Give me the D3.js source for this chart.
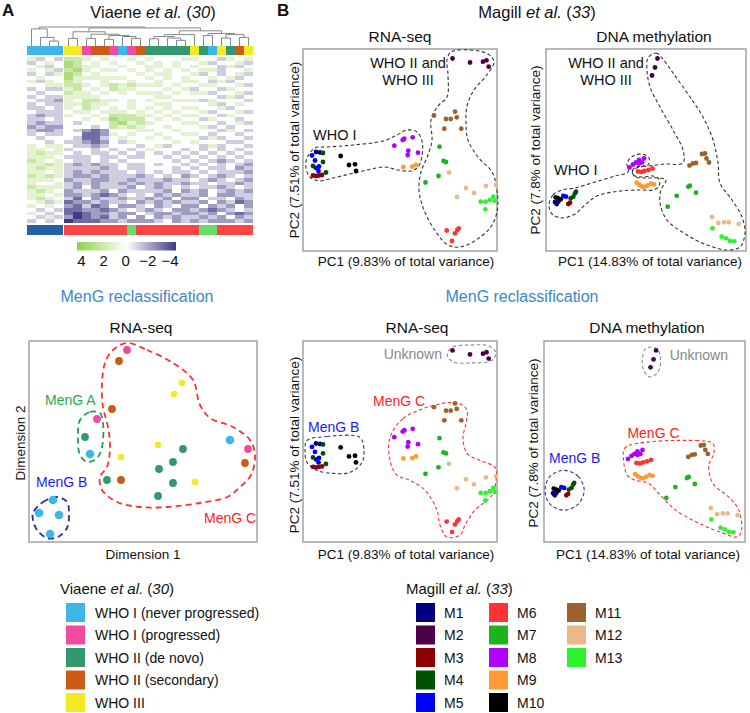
<!DOCTYPE html>
<html><head><meta charset="utf-8">
<script src="https://cdn.jsdelivr.net/npm/d3@7"></script>
<style>
body{margin:0;background:#fff;}
svg{font-family:"Liberation Sans",Arial,Helvetica,sans-serif;}
</style></head><body>
<svg id="c" width="750" height="713"></svg>
<script>
// ---------------- DATA ----------------
const viaeneGroups = ["WHO I (never progressed)","WHO I (progressed)","WHO II (de novo)","WHO II (secondary)","WHO III"];
const viaeneColors = ["#3fb6e8","#f24aa0","#33986f","#cc5b16","#f4ea22"];
const mengColors = ["#66dd66","#2462a6","#ff4444"]; // A, B, C
// heatmap column annotations (sample order after clustering)
const sampleGroup = [0,0,0,0, 4,4,1,3,3,1,0,1,3, 2,2,2,2,2, 4,2,0,4,2,3,4];
const sampleMenG  = [1,1,1,1, 2,2,2,2,2,2,2,0,2,2,2,2,2,2,2,0,0,2,2,2,2];
// heatmap values, one string per gene band; digit d -> value 4-d (0=+4 green, 8=-4 purple)
const heatRows = [
"3545"+"22"+"343"+"4434"+"34443"+"3445343",
"5434"+"12"+"434"+"3443"+"43434"+"4354435",
"4354"+"12"+"334"+"4344"+"33434"+"3445354",
"3435"+"21"+"343"+"3434"+"34343"+"4335443",
"5453"+"12"+"434"+"4443"+"43344"+"3545435",
"4344"+"13"+"333"+"3344"+"34343"+"4434354",
"3534"+"23"+"443"+"4434"+"43443"+"3453544",
"4433"+"22"+"343"+"2323"+"33434"+"4334435",
"5455"+"32"+"434"+"2334"+"44343"+"5445344",
"4544"+"23"+"343"+"4343"+"33434"+"3354435",
"5455"+"33"+"334"+"4444"+"43344"+"4445354",
"4556"+"34"+"223"+"3434"+"34433"+"3534445",
"5455"+"33"+"233"+"4434"+"43344"+"4435434",
"5545"+"34"+"234"+"3434"+"34343"+"3443544",
"4555"+"43"+"343"+"3343"+"43434"+"4354435",
"5655"+"34"+"434"+"2223"+"34343"+"3445344",
"5545"+"44"+"343"+"1222"+"43434"+"4534454",
"5655"+"45"+"444"+"2132"+"34443"+"3445435",
"6566"+"44"+"454"+"2323"+"44344"+"4354544",
"5665"+"45"+"676"+"4443"+"34434"+"4445345",
"5455"+"44"+"776"+"3434"+"43443"+"3454454",
"4544"+"45"+"775"+"4344"+"34344"+"4535445",
"4454"+"55"+"676"+"4534"+"44434"+"3444554",
"3433"+"45"+"565"+"4445"+"43544"+"4535445",
"3343"+"54"+"454"+"5454"+"34445"+"4545454",
"3233"+"45"+"455"+"4545"+"45454"+"5454545",
"3334"+"55"+"545"+"5455"+"44545"+"4545454",
"2343"+"45"+"545"+"4544"+"44454"+"5456545",
"3323"+"56"+"565"+"5455"+"45445"+"4545456",
"3233"+"55"+"556"+"5455"+"44454"+"5455465",
"3343"+"56"+"565"+"5545"+"45455"+"4545556",
"2323"+"56"+"656"+"5556"+"54546"+"5456545",
"3334"+"65"+"566"+"5565"+"55655"+"4565456",
"3443"+"56"+"565"+"5656"+"56556"+"5545565",
"2333"+"56"+"465"+"5564"+"56545"+"4556545",
"3234"+"65"+"556"+"4655"+"55646"+"5645656",
"3343"+"66"+"567"+"6545"+"46565"+"5646655",
"3234"+"57"+"465"+"5655"+"65646"+"6455465",
"4353"+"76"+"656"+"5546"+"56565"+"5646576",
"3434"+"67"+"576"+"4665"+"46546"+"6465646",
"4545"+"77"+"667"+"6545"+"65466"+"5676545",
"3454"+"78"+"766"+"5664"+"56656"+"6564676",
"4535"+"68"+"767"+"5646"+"46565"+"5656465",
"5454"+"87"+"776"+"6566"+"65465"+"6566656"
];
// dendrogram: [height, left, right] or leaf index
const dendro = [1.0,
  [0.9, 0, [0.45, 1, [0.26, 2, 3]]],
  [0.95,
    [0.75, [0.4, 4, 5], [0.62, [0.4, 6, 7], [0.55, [0.35, 8, 9], [0.5, 10, [0.4, 11, 12]]]]],
    [0.8, [0.6, [0.5, [0.38, 13, 14], [0.42, 15, [0.3, 16, 17]]], 18],
          [0.66, [0.55, 19, 20], [0.6, [0.42, 21, 22], [0.45, 23, 24]]]]]];
const heatTicks = [4, 2, 0, -2, -4];

// Viaene MDS: [group, dim1, dim2]
const mdsPoints = [
[1,98,192],[3,90,181],[4,153,159],[4,145,148],[3,83,133],[1,68,123],[2,56,105],[0,61,88],
[4,129,97],[2,154,93],[0,201,102],[4,92,85],[2,144,80],[2,130,73],[2,78,62],[3,92,62],
[2,144,59],[4,166,60],[2,129,46],[0,24,42],[0,10,29],[0,30,27],[0,21,8],[1,219,93],[3,216,79]
];
const mdsHullA = [[51,122],[61,130],[71,129],[74,119],[73,95],[68,84],[58,80],[51,87],[49,105]];
const mdsHullB = [[4,29],[14,40],[28,45],[38,40],[40,29],[38,14],[29,5],[18,4],[8,12],[4,22]];
const mdsHullC = [[98,199],[118,192],[144,179],[164,162],[171,137],[181,124],[204,115],[221,102],[226,87],[222,67],[211,55],[198,45],[171,39],[138,35],[111,35],[88,40],[73,52],[71,65],[78,75],[81,95],[79,115],[74,135],[73,159],[76,179],[84,192]];

// Magill
const magillLabels = ["M1","M2","M3","M4","M5","M6","M7","M8","M9","M10","M11","M12","M13"];
const magillColors = ["#000080","#4b0048","#8b0000","#005200","#0000ff","#ff3333","#1db31d","#b000ff","#ff9933","#000000","#9b6230","#e9b98a","#2ef22e"];
// RNA-seq PCA: [cluster, PC1, PC2]
const rnaPoints = [
[1,13,99],[1,17,98.5],
[5,9,95.5],[5,12,90.5],[5,13,83],[5,16,84.5],[5,15.5,80],
[4,20,98],[4,20,89],[4,10,85],[4,23,78.5],
[3,10,75.5],[3,13,75],[3,16,75.5],[3,19,76],
[10,37.7,95],[10,46,86],[10,52,86.7],[10,53,80],
[8,91.3,105.3],[8,99.7,111],[8,101.3,112.3],[8,109.7,113.7],[8,105.3,100.3],[8,104.7,96],[8,115,98.3],
[9,100.3,84],[9,109.3,84.3],[9,113,86],
[2,149.5,192.5],[2,167,188.5],[2,180,189.3],[2,183.5,190.7],[2,185.7,184.3],
[11,131,135.5],[11,143,132],[11,147.7,132],[11,152,139.3],[11,153.7,133.7],[11,141.3,122.3],[11,158.3,122.3],
[7,136.5,104.3],[7,140.5,90],[7,143,89],[7,135.5,75],[7,122.5,68.5],
[12,146,78.5],[12,163,63],[12,154,54],[12,171,58],[12,183,65],[12,193,66],
[13,177.7,49.3],[13,182.7,49.3],[13,187,51],[13,190.3,54.3],[13,182.3,41.7],[13,191.7,50.3],
[6,143.7,20.5],[6,152,17.7],[6,154.3,21],[6,155.7,22.7],[6,149,10]
];
// DNA methylation PCA: [cluster, PC1, PC2]
const dnaPoints = [
[2,111.5,192.5],[2,109,183.5],[2,106,175.5],
[11,143.5,85.5],[11,147,87.5],[11,150,88],[11,156,97],[11,159,97.5],[11,160.5,92.5],[11,163,88.5],
[8,83.5,83.5],[8,87,86.5],[8,90,88.5],[8,93,87.5],[8,96,88.5],[8,98,92.5],[8,93,91],
[6,92,79.5],[6,95.5,79],[6,98.5,80],[6,102.5,81],[6,106.5,82.5],
[9,90.7,68.3],[9,93.5,66],[9,96,64.5],[9,98.5,64],[9,101.5,65.5],[9,105,67.5],[9,108,66.5],
[1,9,49],[1,10.7,47],[1,12.3,49.3],
[10,12.3,52.7],[10,14.7,51.7],[10,9.7,53.7],
[5,17.3,55],[5,20,54.3],
[3,22.3,47],[3,24,48.3],
[4,24.7,52.7],[4,27.3,54.3],[4,29,57.7],[4,30,59.3],
[7,142.3,64.3],[7,144,65.3],[7,150,58.3],[7,130.7,55.2],[7,121.7,44.3],
[12,166,34],[12,172.3,28],[12,178,28.7],[12,182.7,28.7],[12,192.7,27],
[13,166.5,22.7],[13,175.7,14.3],[13,180,12.7],[13,184,10],[13,188.3,9.7]
];
// WHO-grade hulls (top row)
const rnaHullWho1 = [[4,93],[12,103],[24,104],[50,106],[80,110],[94,116],[104,121],[114,119],[119,110],[119,95],[115,84],[108,80],[95,81],[82,84],[64,81],[47,77],[30,73],[16,70],[7,74],[3,83]];
const rnaHullWho23 = [[148,199],[167,201],[185,197],[191,189],[183,175],[171,161],[164,145],[163,127],[165,111],[175,94],[189,79],[194,61],[194,39],[187,23],[173,11],[157,4],[145,6],[133,19],[121,41],[116,61],[118,79],[125,96],[129,111],[128,131],[135,145],[144,154],[145,176],[144,191]];
const dnaHullWho1 = [[3,46],[7,56],[16,61],[29,63],[49,69],[69,75],[82,79],[81,88],[87,95],[96,97],[103,93],[102,86],[94,84],[87,81],[87,76],[96,74],[107,75],[113,72],[113,65],[107,61],[94,61],[74,60],[51,55],[39,46],[29,37],[16,33],[6,37]];
const dnaHullWho23 = [[102,193],[110,198],[116,193],[127,178],[144,154],[157,134],[167,111],[172,88],[174,68],[186,51],[196,34],[199,18],[194,4],[181,1],[161,6],[141,16],[121,31],[114,48],[115,61],[120,71],[114,73],[102,73],[90,74],[86,79],[90,84],[102,85],[119,87],[137,88],[137,101],[127,121],[114,144],[104,164],[101,181]];
// MenG hulls (bottom row)
const rnaHullUnknown = [[144,189],[150,196],[168,198],[186,197],[193,190],[188,182],[168,180],[150,181]];
const rnaHullB = [[4,102],[24,106],[57,105],[61,92],[59,80],[47,70],[30,69],[14,72],[4,80],[2,92]];
const rnaHullC = [[87,105],[100,124],[120,134],[130,137],[144,140],[157,139],[164,132],[163,119],[160,105],[164,89],[177,82],[192,75],[193,62],[189,47],[172,32],[162,17],[157,7],[144,5],[137,17],[134,32],[122,52],[107,62],[94,67],[87,82]];
const dnaHullUnknown = [[107,196],[114,192],[116,181],[113,170],[105,166],[99,173],[98,185],[101,194]];
const dnaHullB = [[20,72],[34,66],[40,52],[34,38],[20,32],[6,38],[1,52],[6,66]];
const dnaHullC = [[81,95],[151,102],[168,99],[169,89],[164,77],[168,59],[184,45],[194,32],[196,9],[191,5],[178,9],[158,17],[131,32],[114,49],[104,59],[91,62],[83,67],[79,85]];

// ---------------- DRAW ----------------
const svg = d3.select("#c");

function txt(x, y, s, size, opts = {}) {
  const t = svg.append("text").attr("x", x).attr("y", y).attr("font-size", size)
    .attr("fill", opts.fill || "#111").attr("text-anchor", opts.anchor || "start");
  if (opts.weight) t.attr("font-weight", opts.weight);
  t.text(s);
  return t;
}
function vtxt(x, y, s, size) {
  svg.append("text").attr("transform", `translate(${x},${y}) rotate(-90)`)
    .attr("text-anchor", "middle").attr("font-size", size).attr("fill", "#111").text(s);
}
function cite(x, y, name, num, size, anchor) {
  const t = svg.append("text").attr("x", x).attr("y", y).attr("font-size", size)
    .attr("text-anchor", anchor).attr("fill", "#111");
  t.append("tspan").text(name + " ");
  t.append("tspan").attr("font-style", "italic").text("et al.");
  t.append("tspan").text(" (");
  t.append("tspan").attr("font-style", "italic").text(num);
  t.append("tspan").text(")");
}

// panel letters & titles
txt(2, 16, "A", 17, {weight: "bold"});
txt(277, 16, "B", 17, {weight: "bold"});
cite(153, 18, "Viaene", "30", 16.5, "middle");
cite(537, 18, "Magill", "33", 16.5, "middle");

// ---- heatmap ----
const xCol = d3.scaleBand().domain(d3.range(25)).range([27, 252]);
const colX = i => xCol(i) + (i >= 4 ? 1 : 0);
const yRow = d3.scaleBand().domain(d3.range(heatRows.length)).range([57, 223]);
const heatColor = d3.scaleLinear().domain([4, 0, -4]).range(["#90d04c", "#ffffff", "#3f3c85"]);
const cells = [];
heatRows.forEach((row, r) => row.split("").forEach((ch, c) => cells.push({r, c, v: 4 - (+ch)})));
svg.append("g").attr("shape-rendering", "crispEdges").selectAll("rect").data(cells).join("rect")
  .attr("x", d => colX(d.c)).attr("y", d => yRow(d.r))
  .attr("width", xCol.bandwidth() + 0.3).attr("height", yRow.bandwidth() + 0.3)
  .attr("fill", d => heatColor(d.v));
// annotation bars
svg.append("g").attr("shape-rendering", "crispEdges").selectAll("rect").data(sampleGroup).join("rect")
  .attr("x", (d, i) => colX(i)).attr("y", 46).attr("width", xCol.bandwidth() + 0.3).attr("height", 9)
  .attr("fill", d => viaeneColors[d]);
svg.append("g").attr("shape-rendering", "crispEdges").selectAll("rect").data(sampleMenG).join("rect")
  .attr("x", (d, i) => colX(i)).attr("y", 225).attr("width", xCol.bandwidth() + 0.3).attr("height", 9.5)
  .attr("fill", d => mengColors[d]);
// dendrogram
const yDen = d3.scaleLinear().domain([0, 1]).range([46, 27]);
const denG = svg.append("g").attr("stroke", "#888").attr("stroke-width", 1).attr("fill", "none");
function drawNode(n) {
  if (typeof n === "number") return {x: colX(n) + xCol.bandwidth() / 2, h: 0};
  const a = drawNode(n[1]), b = drawNode(n[2]);
  const y = yDen(n[0]);
  denG.append("path").attr("d", `M${a.x},${yDen(a.h)}V${y}H${b.x}V${yDen(b.h)}`);
  return {x: (a.x + b.x) / 2, h: n[0]};
}
drawNode(dendro);
// colour key
const grad = svg.append("defs").append("linearGradient").attr("id", "hg");
grad.append("stop").attr("offset", "0%").attr("stop-color", heatColor(4));
grad.append("stop").attr("offset", "50%").attr("stop-color", heatColor(0));
grad.append("stop").attr("offset", "100%").attr("stop-color", heatColor(-4));
svg.append("rect").attr("x", 77).attr("y", 242).attr("width", 99).attr("height", 8.5).attr("fill", "url(#hg)");
const keyX = d3.scaleLinear().domain([4, -4]).range([81.5, 170]);
heatTicks.forEach(v => txt(keyX(v), 266, v < 0 ? "\u2212" + (-v) : String(v), 15, {anchor: "middle"}));

// ---- scatter panels ----
function panel(box, xDom, yDom) {
  const x = d3.scaleLinear().domain(xDom).range([box[0], box[2]]);
  const y = d3.scaleLinear().domain(yDom).range([box[3], box[1]]);
  svg.append("rect").attr("x", box[0]).attr("y", box[1]).attr("width", box[2] - box[0]).attr("height", box[3] - box[1])
    .attr("fill", "none").attr("stroke", "#a3a3a3").attr("stroke-width", 1.5);
  const g = svg.append("g");
  return {x, y, g};
}
const hullLine = (p) => d3.line().x(d => p.x(d[0])).y(d => p.y(d[1])).curve(d3.curveCatmullRomClosed.alpha(0.5));
function hull(p, pts, color, w, dash) {
  p.g.append("path").attr("d", hullLine(p)(pts)).attr("fill", "none").attr("stroke", color)
    .attr("stroke-width", w).attr("stroke-dasharray", dash);
}
function dots(p, pts, r) {
  p.g.selectAll("circle.m").data(pts).join("circle").attr("class", "m")
    .attr("cx", d => p.x(d[1])).attr("cy", d => p.y(d[2])).attr("r", r)
    .attr("fill", d => magillColors[d[0] - 1]);
}
function ptxt(p, x, y, s, color, anchor, size) {
  p.g.append("text").attr("x", p.x(x)).attr("y", p.y(y)).attr("font-size", size || 14)
    .attr("fill", color).attr("text-anchor", anchor || "start").text(s);
}

// top RNA-seq
txt(400, 42, "RNA-seq", 15.5, {anchor: "middle"});
const pR1 = panel([303, 49, 497, 251], [0, 194], [0, 202]);
hull(pR1, rnaHullWho1, "#333", 1.1, "3.5,2.5");
hull(pR1, rnaHullWho23, "#333", 1.1, "3.5,2.5");
dots(pR1, rnaPoints, 2.4);
ptxt(pR1, 105, 183, "WHO II and", "#111", "middle", 14.5);
ptxt(pR1, 105, 166, "WHO III", "#111", "middle", 14.5);
ptxt(pR1, 10, 111, "WHO I", "#111", "start", 14.5);
vtxt(298.5, 150, "PC2 (7.51% of total variance)", 13.5);
txt(406, 266, "PC1 (9.83% of total variance)", 13.5, {anchor: "middle"});

// top DNA methylation
txt(654, 42, "DNA methylation", 15.5, {anchor: "middle"});
const pD1 = panel([546, 49, 746, 251], [0, 200], [0, 202]);
hull(pD1, dnaHullWho1, "#333", 1.1, "3.5,2.5");
hull(pD1, dnaHullWho23, "#333", 1.1, "3.5,2.5");
dots(pD1, dnaPoints, 2.4);
ptxt(pD1, 60, 183, "WHO II and", "#111", "middle", 14.5);
ptxt(pD1, 60, 166, "WHO III", "#111", "middle", 14.5);
ptxt(pD1, 8, 76, "WHO I", "#111", "start", 14.5);
vtxt(539.5, 150, "PC2 (7.8% of total variance)", 13.5);
txt(650, 266, "PC1 (14.83% of total variance)", 13.5, {anchor: "middle"});

// MenG reclassification headers
txt(137, 302, "MenG reclassification", 16, {anchor: "middle", fill: "#3b88c6"});
txt(522, 302, "MenG reclassification", 16, {anchor: "middle", fill: "#3b88c6"});

// bottom-left Viaene MDS
txt(141, 333, "RNA-seq", 15.5, {anchor: "middle"});
const pV = panel([29, 341, 257, 542], [0, 228], [0, 201]);
hull(pV, mdsHullC, "#ff3030", 1.8, "6,4");
hull(pV, mdsHullA, "#1ea255", 1.8, "6,4");
hull(pV, mdsHullB, "#2e3192", 1.8, "6,4");
pV.g.selectAll("circle.v").data(mdsPoints).join("circle").attr("class", "v")
  .attr("cx", d => pV.x(d[1])).attr("cy", d => pV.y(d[2]))
  .attr("r", d => d[0] === 4 ? 3.3 : (d[0] === 0 ? 4.3 : 3.9))
  .attr("fill", d => viaeneColors[d[0]]);
ptxt(pV, 16, 137, "MenG A", "#1faa50", "start", 14);
ptxt(pV, 7, 55, "MenG B", "#1a1aff", "start", 14);
ptxt(pV, 175, 19, "MenG C", "#ff2020", "start", 14);
vtxt(25, 443, "Dimension 2", 13.5);
txt(143, 559, "Dimension 1", 13.5, {anchor: "middle"});

// bottom RNA-seq (MenG)
txt(417, 333, "RNA-seq", 15.5, {anchor: "middle"});
const pR2 = panel([303, 341, 497, 542], [0, 194], [0, 202]);
hull(pR2, rnaHullUnknown, "#8a8a8a", 1.1, "3.5,2.5");
hull(pR2, rnaHullB, "#2e3192", 1.1, "3.5,2.5");
hull(pR2, rnaHullC, "#ff3030", 1.1, "3.5,2.5");
dots(pR2, rnaPoints, 2.4);
ptxt(pR2, 139, 184, "Unknown", "#888", "end", 14);
ptxt(pR2, 5, 111, "MenG B", "#1a1aff", "start", 14);
ptxt(pR2, 70, 137, "MenG C", "#ff2020", "start", 14);
vtxt(298.5, 445, "PC2 (7.51% of total variance)", 13.5);
txt(406, 559, "PC1 (9.83% of total variance)", 13.5, {anchor: "middle"});

// bottom DNA methylation (MenG)
txt(647, 333, "DNA methylation", 15.5, {anchor: "middle"});
const pD2 = panel([544, 341, 745, 542], [0, 200], [0, 202]);
hull(pD2, dnaHullUnknown, "#8a8a8a", 1.1, "3.5,2.5");
hull(pD2, dnaHullB, "#2e3192", 1.1, "3.5,2.5");
hull(pD2, dnaHullC, "#ff3030", 1.1, "3.5,2.5");
dots(pD2, dnaPoints, 2.4);
ptxt(pD2, 125, 183, "Unknown", "#888", "start", 14);
ptxt(pD2, 5, 79, "MenG B", "#1a1aff", "start", 14);
ptxt(pD2, 83, 105, "MenG C", "#ff2020", "start", 14);
vtxt(538, 443, "PC2 (7.8% of total variance)", 13.5);
txt(648, 559, "PC1 (14.83% of total variance)", 13.5, {anchor: "middle"});

// ---- legends ----
cite(60, 594, "Viaene", "30", 15, "start");
const legY = d3.scaleLinear().domain([0, 1]).range([603, 625.5]);
viaeneGroups.forEach((g, i) => {
  svg.append("rect").attr("x", 66).attr("y", legY(i)).attr("width", 19).attr("height", 19).attr("fill", viaeneColors[i]);
  txt(95, legY(i) + 14.5, g, 14);
});
cite(406, 594, "Magill", "33", 15, "start");
const legColX = [416, 489, 567];
magillLabels.forEach((m, i) => {
  const col = i < 5 ? 0 : (i < 10 ? 1 : 2), row = i < 5 ? i : (i < 10 ? i - 5 : i - 10);
  svg.append("rect").attr("x", legColX[col]).attr("y", legY(row)).attr("width", 19).attr("height", 19).attr("fill", magillColors[i]);
  txt(legColX[col] + 28, legY(row) + 14.5, m, 14);
});
</script>
</body></html>
